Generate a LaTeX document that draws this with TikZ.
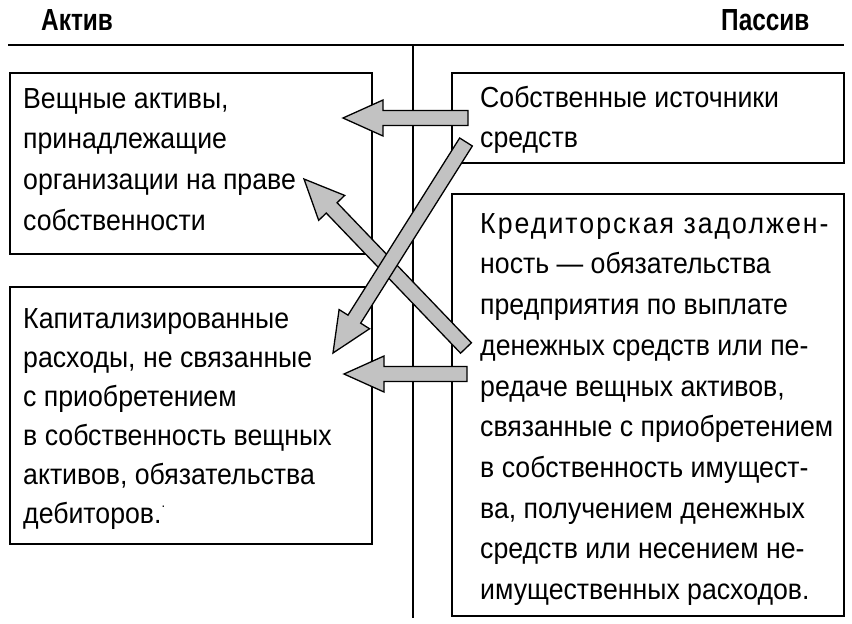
\documentclass[tikz,border=0pt]{standalone}
\usepackage{fontspec}
\setmainfont[FakeStretch=0.92]{Liberation Sans}
\newfontfamily\headfont[FakeStretch=0.8]{Liberation Sans Bold}
\usetikzlibrary{calc}
\tikzset{
  boxline/.style={draw=black, line width=2.4pt},
  rule/.style={draw=black, line width=2pt},
  txt/.style={anchor=north west, inner sep=0pt, align=left, font=\fontsize{29pt}{40.7pt}\selectfont},
  txtb/.style={txt, font=\fontsize{29pt}{39pt}\selectfont},
  head/.style={anchor=base west, inner sep=0pt, font=\headfont\fontsize{30.5pt}{32pt}\selectfont},
  fatarrow/.style={fill=black!24, draw=black, line width=1.3pt, line join=miter},
}
\newcommand{\fatarr}[2]{%
  \path ($(#2)!40pt!(#1)$) coordinate (hb);
  \filldraw[fatarrow]
    ($(#1)!7.5pt!90:(#2)$) -- ($(hb)!7.5pt!90:(#2)$) -- ($(hb)!18pt!90:(#2)$) --
    (#2) -- ($(hb)!18pt!-90:(#2)$) -- ($(hb)!7.5pt!-90:(#2)$) -- ($(#1)!7.5pt!-90:(#2)$) -- cycle;
}
\newcommand{\strutA}{\rule{0pt}{24pt}}
\begin{document}
\begin{tikzpicture}[x=1pt,y=-1pt]
\useasboundingbox (0,0) rectangle (852,624);
% headers
\node[head] (hA) at (41,30) {Актив};
\node[head] (hP) at (721,30) {Пассив};
\coordinate (hl1) at (8,45);
\coordinate (hl2) at (844,45);
\draw[rule] (hl1) -- (hl2);
\coordinate (v1) at (413,45);
\coordinate (v2) at (413,618);
\draw[rule] (v1) -- (v2);
% boxes
\node[boxline, anchor=north west, minimum width=362pt, minimum height=181pt, inner sep=0pt] (bL1) at (9,72) {};
\node[boxline, anchor=north west, minimum width=362pt, minimum height=257pt, inner sep=0pt] (bL2) at (9,286) {};
\node[boxline, anchor=north west, minimum width=392pt, minimum height=90pt, inner sep=0pt] (bR1) at (451,72) {};
\node[boxline, anchor=north west, minimum width=392pt, minimum height=422pt, inner sep=0pt] (bR2) at (451,193) {};
% texts
\node[txt] (tL1) at (23,84) {\strutA Вещные активы,\\принадлежащие\\организации на праве\\собственности};
\node[txtb] (tL2) at (23,304) {\strutA Капитализированные\\расходы, не связанные\\с приобретением\\в собственность вещных\\активов, обязательства\\дебиторов.\raisebox{0.55em}{\fontsize{14pt}{14pt}\selectfont .}};
\node[txt] (tR1) at (480,83) {\strutA Собственные источники\\средств};
\node[txt] (tR2) at (480,209) {\strutA {\addfontfeature{LetterSpace=7}Кредиторская задолжен-}\\ность — обязательства\\предприятия по выплате\\денежных средств или пе-\\редаче вещных активов,\\связанные с приобретением\\в собственность имущест-\\ва, получением денежных\\средств или несением не-\\имущественных расходов.};
% arrows
\coordinate (a1t) at (468,118);
\coordinate (a1h) at (343,118);
\coordinate (a4t) at (467,374);
\coordinate (a4h) at (344,374);
\coordinate (aAt) at (466,142);
\coordinate (aAh) at (333,353);
\coordinate (aBt) at (466,348);
\coordinate (aBh) at (304,179);
\fatarr{a1t}{a1h}
\fatarr{a4t}{a4h}
\fatarr{aBt}{aBh}
\fatarr{aAt}{aAh}
\end{tikzpicture}
\end{document}
